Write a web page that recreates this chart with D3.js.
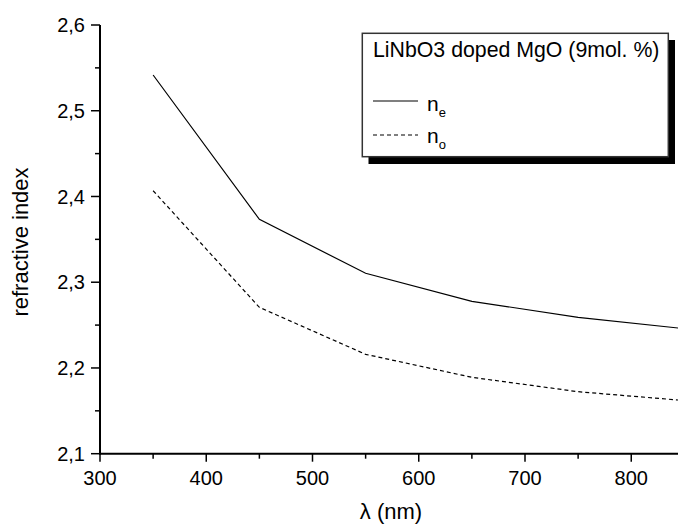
<!DOCTYPE html>
<html><head><meta charset="utf-8">
<script src="https://cdn.jsdelivr.net/npm/d3@7"></script>
<style>body{margin:0;background:#fff}svg{display:block}text{font-family:Arial,"Liberation Sans",sans-serif;fill:#000}</style>
</head><body><svg id="c" width="678" height="527"></svg>
<script>
const wavelengths = [350, 450, 550, 650, 750, 850];
const nE = [2.5417, 2.3734, 2.3104, 2.2777, 2.2591, 2.2458];
const nO = [2.4067, 2.2707, 2.2159, 2.1891, 2.1723, 2.1620];
const xTicks = [300, 400, 500, 600, 700, 800];
const yTicks = [2.1, 2.2, 2.3, 2.4, 2.5, 2.6];
const legendTitle = "LiNbO3 doped MgO (9mol. %)";

const svg = d3.select("#c");
const x = d3.scaleLinear().domain([300, 844]).range([100, 678]);
const y = d3.scaleLinear().domain([2.1, 2.6]).range([453.7, 25]);
const fmt = d => d3.format(".1f")(d).replace(".", ",");

svg.append("clipPath").attr("id","clip").append("rect").attr("x",100).attr("y",0).attr("width",578).attr("height",454);

const line = d3.line().x((d,i)=>x(wavelengths[i])).y(d=>y(d));
const g = svg.append("g").attr("clip-path","url(#clip)");
g.append("path").attr("d", line(nE)).attr("fill","none").attr("stroke","#000").attr("stroke-width",1.2);
g.append("path").attr("d", line(nO)).attr("fill","none").attr("stroke","#000").attr("stroke-width",1.2).attr("stroke-dasharray","4,3");

// x axis
const xa = svg.append("g").attr("transform","translate(0,453.7)");
xa.append("line").attr("x1",100).attr("x2",678).attr("stroke","#000").attr("stroke-width",2);
d3.range(300, 850, 50).forEach(v=>{
  const major = v % 100 === 0;
  xa.append("line").attr("x1",x(v)).attr("x2",x(v)).attr("y1",0).attr("y2",major?8:5).attr("stroke","#000").attr("stroke-width",1.5);
});
xTicks.forEach(v=>{
  xa.append("text").attr("x",x(v)).attr("y",31).attr("text-anchor","middle").attr("font-size",20).text(v);
});

// y axis
const ya = svg.append("g").attr("transform","translate(100,0)");
ya.append("line").attr("y1",y(2.6)).attr("y2",453.7+1).attr("stroke","#000").attr("stroke-width",2);
d3.range(2.1, 2.6001, 0.05).forEach(v=>{
  const major = Math.abs(Math.round(v*10) - v*10) < 1e-6;
  ya.append("line").attr("x1",major?-9:-5).attr("x2",0).attr("y1",y(v)).attr("y2",y(v)).attr("stroke","#000").attr("stroke-width",1.5);
});
yTicks.forEach(v=>{
  ya.append("text").attr("x",-15).attr("y",y(v)).attr("dy","0.36em").attr("text-anchor","end").attr("font-size",20).text(fmt(v));
});

// axis titles
svg.append("text").attr("x",391).attr("y",519).attr("text-anchor","middle").attr("font-size",22).text("λ (nm)");
svg.append("text").attr("transform","translate(28,242) rotate(-90)").attr("text-anchor","middle").attr("font-size",22).text("refractive index");

// legend
const lg = svg.append("g");
lg.append("rect").attr("x",368.5).attr("y",40).attr("width",306.5).attr("height",124).attr("fill","#000");
lg.append("rect").attr("x",362.3).attr("y",33.3).attr("width",306).attr("height",123.4).attr("fill","#fff").attr("stroke","#333").attr("stroke-width",1.5);
lg.append("text").attr("x",373).attr("y",57.3).attr("font-size",21.3).text(legendTitle);
const items = [{name:"n", sub:"e", dash:null, ly:101, ty:110.7},{name:"n", sub:"o", dash:"4,3", ly:135, ty:143.3}];
items.forEach(it=>{
  lg.append("line").attr("x1",373).attr("x2",418).attr("y1",it.ly).attr("y2",it.ly).attr("stroke","#000").attr("stroke-width",1.2).attr("stroke-dasharray",it.dash);
  const t = lg.append("text").attr("x",427).attr("y",it.ty).attr("font-size",21);
  t.append("tspan").text(it.name);
  t.append("tspan").attr("dy",6).attr("font-size",13).text(it.sub);
});
</script></body></html>
